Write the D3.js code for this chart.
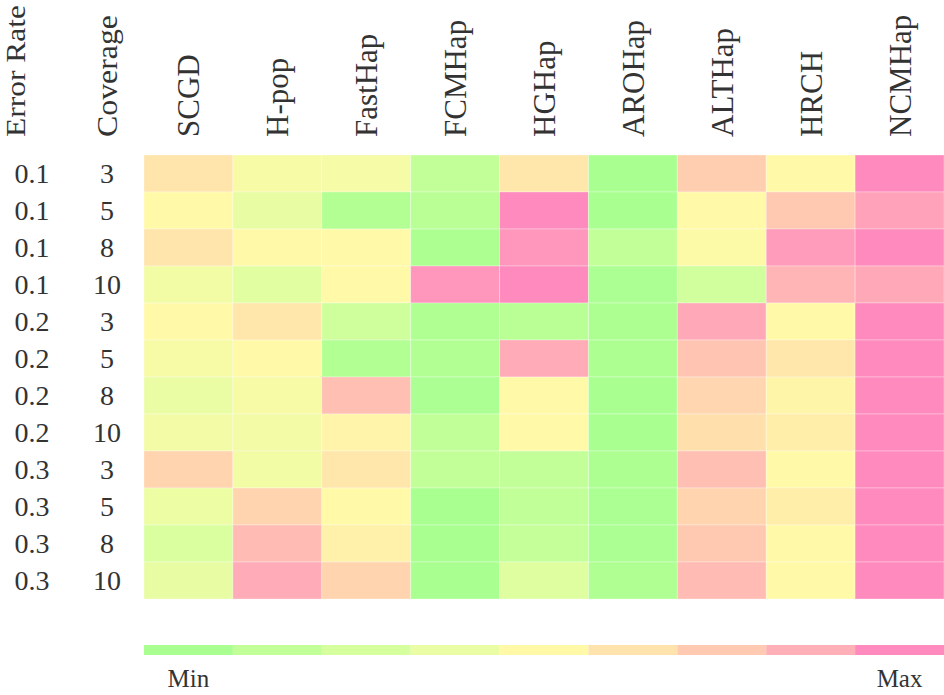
<!DOCTYPE html>
<html>
<head>
<meta charset="utf-8">
<style>
  body { margin: 0; background: #fff; }
  text { font-family: "Liberation Serif", "Times New Roman", serif; fill: #333; }
</style>
<script src="https://cdn.jsdelivr.net/npm/d3@7"></script>
</head>
<body>
<script>
// methods (columns)
var methods = ["SCGD", "H-pop", "FastHap", "FCMHap", "HGHap", "AROHap", "ALTHap", "HRCH", "NCMHap"];
// row keys
var errorRates = ["0.1", "0.1", "0.1", "0.1", "0.2", "0.2", "0.2", "0.2", "0.3", "0.3", "0.3", "0.3"];
var coverages  = ["3", "5", "8", "10", "3", "5", "8", "10", "3", "5", "8", "10"];
// relative score (0 = min, 1 = max), one array per row
var values = [
  [0.62, 0.45, 0.44, 0.13, 0.60, 0.00, 0.73, 0.50, 1.00],
  [0.50, 0.36, 0.05, 0.08, 1.00, 0.00, 0.50, 0.76, 0.92],
  [0.62, 0.50, 0.50, 0.02, 0.96, 0.13, 0.48, 0.94, 1.00],
  [0.42, 0.32, 0.50, 0.96, 1.00, 0.01, 0.22, 0.85, 0.90],
  [0.50, 0.60, 0.20, 0.03, 0.08, 0.02, 0.90, 0.50, 1.00],
  [0.45, 0.50, 0.04, 0.04, 0.89, 0.02, 0.78, 0.60, 1.00],
  [0.38, 0.45, 0.80, 0.01, 0.50, 0.00, 0.69, 0.52, 1.00],
  [0.43, 0.43, 0.53, 0.12, 0.50, 0.00, 0.64, 0.57, 1.00],
  [0.70, 0.42, 0.60, 0.13, 0.13, 0.02, 0.80, 0.50, 1.00],
  [0.39, 0.70, 0.50, 0.00, 0.12, 0.01, 0.70, 0.57, 1.00],
  [0.27, 0.82, 0.55, 0.00, 0.14, 0.01, 0.76, 0.50, 1.00],
  [0.36, 0.89, 0.70, 0.00, 0.30, 0.03, 0.82, 0.50, 1.00]
];
// colour ramp, min -> max
var palette = ["#aaff91", "#c2ff98", "#d6ff9e", "#eafda4", "#fff9a8", "#ffe3ac", "#ffcab1", "#ffafb7", "#ff8abe"];
var legendEnds = ["Min", "Max"];

var W = 944, H = 695;
var margin = {top: 155, left: 144, right: 0};

var svg = d3.select("body").append("svg")
    .attr("width", W)
    .attr("height", H);

var x = d3.scaleBand()
    .domain(methods)
    .range([margin.left, W - margin.right]);

var y = d3.scaleBand()
    .domain(d3.range(errorRates.length))
    .range([margin.top, 599]);

var color = d3.scaleLinear()
    .domain(palette.map((c, i) => i / (palette.length - 1)))
    .range(palette)
    .interpolate(d3.interpolateRgb);

// cells
var cells = [];
values.forEach((row, r) => row.forEach((v, c) => cells.push({r: r, m: methods[c], v: v})));

svg.append("g").selectAll("rect")
    .data(cells)
  .enter().append("rect")
    .attr("x", d => x(d.m))
    .attr("y", d => y(d.r))
    .attr("width", x.bandwidth())
    .attr("height", y.bandwidth())
    .attr("fill", d => color(d.v))
    .attr("stroke", "#fff")
    .attr("stroke-opacity", 0.3)
    .attr("stroke-width", 1);

// column headers (rotated)
svg.append("g").selectAll("text")
    .data(methods)
  .enter().append("text")
    .attr("transform", d => `translate(${x(d) + x.bandwidth() / 2 + 11},137) rotate(-90)`)
    .style("font-size", "31px")
    .text(d => d);

// the two key headers are drawn a bit longer in the original
svg.append("text")
    .attr("transform", "translate(25,137) rotate(-90)")
    .attr("textLength", 132)
    .attr("lengthAdjust", "spacingAndGlyphs")
    .style("font-size", "28px")
    .text("Error Rate");

svg.append("text")
    .attr("transform", "translate(117,137) rotate(-90)")
    .attr("textLength", 122)
    .attr("lengthAdjust", "spacingAndGlyphs")
    .style("font-size", "29px")
    .text("Coverage");

// row labels
svg.append("g").selectAll("text")
    .data(errorRates)
  .enter().append("text")
    .attr("x", 32)
    .attr("y", (d, i) => y(i) + y.bandwidth() / 2)
    .attr("dy", "0.35em")
    .attr("text-anchor", "middle")
    .style("font-size", "28px")
    .text(d => d);

svg.append("g").selectAll("text")
    .data(coverages)
  .enter().append("text")
    .attr("x", 107)
    .attr("y", (d, i) => y(i) + y.bandwidth() / 2)
    .attr("dy", "0.35em")
    .attr("text-anchor", "middle")
    .style("font-size", "28px")
    .text(d => d);

// legend bar, one step per column
svg.append("g").selectAll("rect")
    .data(palette)
  .enter().append("rect")
    .attr("x", (d, i) => x(methods[i]))
    .attr("y", 645)
    .attr("width", x.bandwidth())
    .attr("height", 10)
    .attr("fill", d => d);

svg.append("g").selectAll("text")
    .data(legendEnds)
  .enter().append("text")
    .attr("x", (d, i) => x(methods[i * (methods.length - 1)]) + x.bandwidth() / 2)
    .attr("y", 687)
    .attr("text-anchor", "middle")
    .style("font-size", "25px")
    .text(d => d);
</script>
</body>
</html>
